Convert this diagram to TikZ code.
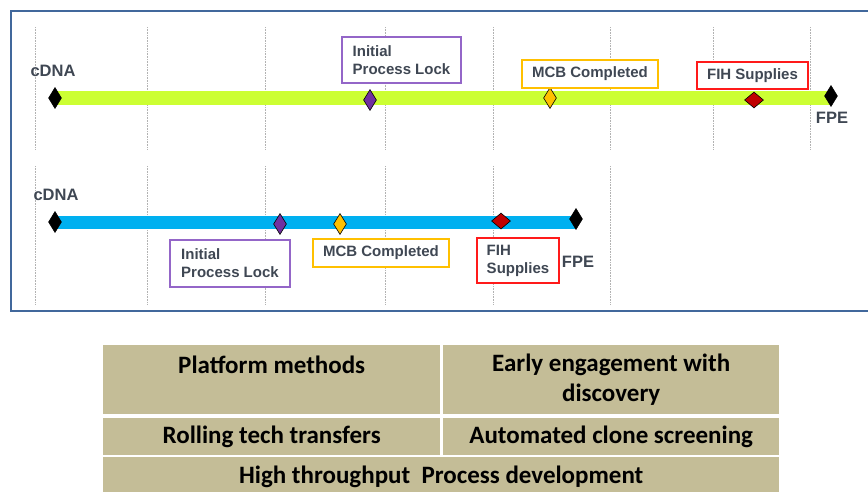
\documentclass[tikz,border=0pt]{standalone}
\usepackage{fontspec}
\setmainfont{Liberation Sans}
\newfontfamily\tablefont{Carlito}
\usetikzlibrary{shapes.geometric, positioning}

\definecolor{framecol}{HTML}{41689C}
\definecolor{limebar}{HTML}{CCFF33}
\definecolor{skybar}{HTML}{00B0F0}
\definecolor{labelgray}{HTML}{3F4753}
\definecolor{lockpurple}{HTML}{7030A0}
\definecolor{lockframe}{HTML}{9466C8}
\definecolor{mcbgold}{HTML}{FFC000}
\definecolor{fihred}{HTML}{C00000}
\definecolor{fihframe}{HTML}{FF1A1A}
\definecolor{tabletan}{HTML}{C4BD97}

\tikzset{
  milestone/.style={diamond, draw=black, line width=0.6pt, inner sep=0pt, minimum width=13pt, minimum height=21pt},
  widestone/.style={milestone, minimum width=19pt, minimum height=16pt},
  msbox/.style={draw, line width=1.3pt, fill=white, text=labelgray, align=left, inner sep=0pt,
    font=\bfseries\fontsize{15}{18}\selectfont},
  endlabel/.style={text=labelgray, inner sep=0pt, font=\bfseries\fontsize{16.5}{19}\selectfont},
  gridline/.style={gray!60, densely dotted, line width=0.6pt},
  cell/.style={fill=tabletan, anchor=north west, align=center, inner sep=0pt,
    font=\tablefont\bfseries\fontsize{25}{30}\selectfont},
}

\begin{document}
\begin{tikzpicture}[x=1pt, y=-1pt]
  \useasboundingbox (0,0) rectangle (868,491);

  % frame and grid
  \draw[framecol, line width=2pt] (885,11) -- (11,11) -- (11,311) -- (885,311);
  \draw[gridline] (35,27) -- (35,150) (147,27) -- (147,150) (265,27) -- (265,150)
    (385,27) -- (385,150) (493,27) -- (493,150) (610,27) -- (610,150)
    (713,27) -- (713,150) (810,27) -- (810,150);
  \draw[gridline] (35,166) -- (35,305) (147,166) -- (147,305) (265,166) -- (265,305)
    (385,166) -- (385,305) (493,166) -- (493,305) (610,166) -- (610,305);

  % upper timeline
  \coordinate (topstart) at (55,98);
  \coordinate (topend) at (831,96);
  \path[limebar, line width=14pt] (topstart) edge (topend |- topstart);
  \node[milestone, fill=black] (topcdna) at (topstart) {};
  \node[milestone, fill=lockpurple] (toplock) at (370,100) {};
  \node[milestone, fill=mcbgold] (topmcb) at (550,98) {};
  \node[widestone, fill=fihred] (topfih) at (754,100) {};
  \node[milestone, fill=black] (topfpe) at (topend) {};
  \node[endlabel] (topcdnatxt) at (53,71) {cDNA};
  \node[endlabel] (topfpetxt) at (832,118) {FPE};
  \node[msbox, draw=lockframe, minimum width=119pt, minimum height=46pt] (toplocktxt) at (401.5,60)
    {Initial\\Process Lock};
  \node[msbox, draw=mcbgold, minimum width=136pt, minimum height=28pt] (topmcbtxt) at (590,74)
    {MCB Completed};
  \node[msbox, draw=fihframe, minimum width=111pt, minimum height=27pt] (topfihtxt) at (752.5,75.5)
    {FIH Supplies};

  % lower timeline
  \coordinate (lowstart) at (55,222);
  \coordinate (lowend) at (576,219);
  \path[skybar, line width=13pt] (lowstart) edge (lowend |- lowstart);
  \node[milestone, fill=black] (lowcdna) at (lowstart) {};
  \node[milestone, fill=lockpurple] (lowlock) at (280,224) {};
  \node[milestone, fill=mcbgold] (lowmcb) at (340,224) {};
  \node[widestone, fill=fihred] (lowfih) at (501,221) {};
  \node[milestone, fill=black] (lowfpe) at (lowend) {};
  \node[endlabel] (lowcdnatxt) at (56,195) {cDNA};
  \node[endlabel] (lowfpetxt) at (578,262) {FPE};
  \node[msbox, draw=lockframe, minimum width=120pt, minimum height=47pt] (lowlocktxt) at (230,263.5)
    {Initial\\Process Lock};
  \node[msbox, draw=mcbgold, minimum width=136pt, minimum height=28pt] (lowmcbtxt) at (381,253)
    {MCB Completed};
  \node[msbox, draw=fihframe, minimum width=82pt, minimum height=45pt] (lowfihtxt) at (518,260.5)
    {FIH\\Supplies};

  % approach table
  \node[cell, minimum width=337pt, minimum height=69pt] (platform) at (103,345) {Platform methods\\~};
  \node[cell, minimum width=336pt, minimum height=69pt] (engage) at (443,345) {Early engagement with\\discovery};
  \node[cell, minimum width=337pt, minimum height=37pt] (rolling) at (103,418) {Rolling tech transfers};
  \node[cell, minimum width=336pt, minimum height=37pt] (clone) at (443,418) {Automated clone screening};
  \node[cell, minimum width=676pt, minimum height=40pt] (throughput) at (103,457) {High throughput\ \ Process development};
\end{tikzpicture}
\end{document}
